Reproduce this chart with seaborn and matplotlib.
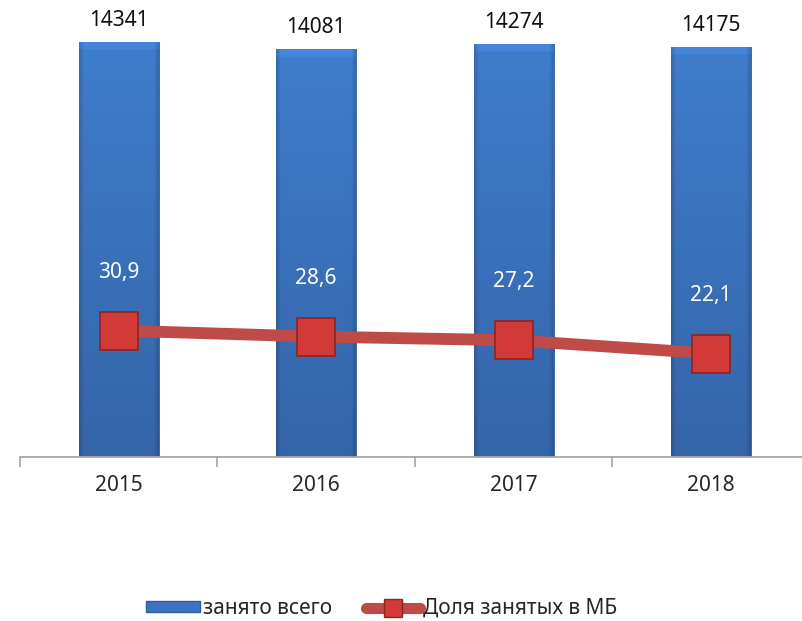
import numpy as np
import pandas as pd
import matplotlib
matplotlib.use("Agg")
import matplotlib.pyplot as plt
import seaborn as sns
from matplotlib.lines import Line2D
from matplotlib.patches import Patch
from matplotlib.colors import to_rgb

# data
years = ["2015", "2016", "2017", "2018"]
employed_total = [14341, 14081, 14274, 14175]
share_small_business = [30.9, 28.6, 27.2, 22.1]
bar_labels = ["14341", "14081", "14274", "14175"]
share_labels = ["30,9", "28,6", "27,2", "22,1"]
legend_names = ["занято всего", "Доля занятых в МБ"]

sns.set_style("white")
plt.rcParams["font.family"] = ["Noto Sans", "DejaVu Sans"]

df = pd.DataFrame({"year": years, "total": employed_total, "share": share_small_business})

fig = plt.figure(figsize=(8.03, 6.21), dpi=100)
# axis runs a little past the right edge of the picture, as in the original
ax = fig.add_axes([0.0249, 0.264, 0.9838, 0.688])

sns.barplot(data=df, x="year", y="total", ax=ax, width=0.405,
            color="#3A74C2", saturation=1, edgecolor="#2F5E9E", linewidth=0.6)

# shading: slightly lighter at the top, darker at the bottom, darker narrow sides
top_c = np.array(to_rgb("#3F7DCC"))
bot_c = np.array(to_rgb("#3565A9"))
nx, ny = 80, 200
vy = np.linspace(0, 1, ny)[:, None, None]          # 0 top -> 1 bottom
shade = top_c * (1 - vy) + bot_c * vy
hx = np.linspace(0, 1, nx)
side = np.clip(np.minimum(hx, 1 - hx) / 0.06, 0, 1)
side = 0.85 + 0.15 * side
img = np.clip(shade * side[None, :, None], 0, 1)
for patch in ax.patches:
    x0, y0 = patch.get_x(), patch.get_y()
    w, h = patch.get_width(), patch.get_height()
    bar_img = img.copy()
    # bevel band at the top of the bar
    band = max(1, int(ny * 9 / 415))
    bar_img[:band] = np.clip(bar_img[:band] * 1.08, 0, 1)
    im = ax.imshow(bar_img, aspect="auto", extent=[x0, x0 + w, y0, y0 + h],
                   origin="upper", zorder=patch.get_zorder() + 0.1, interpolation="bilinear")
    im.set_clip_path(patch)

for i, lab in enumerate(bar_labels):
    ax.annotate(lab, (i, employed_total[i]), xytext=(0, 11.5), textcoords="offset points",
                ha="center", va="baseline", fontsize=15, color="#111111", annotation_clip=False)

ax.set_xlim(-0.5, 3.5)
ax.set_ylim(0, 14756)
ax.set_xlabel("")
ax.set_ylabel("")
ax.set_yticks([])
ax.set_xticks(np.arange(len(years)))
ax.set_xticklabels(years, fontsize=15)
ax.set_xticks(np.arange(len(years) + 1) - 0.5, minor=True)
ax.tick_params(axis="x", which="major", length=0, pad=13)
ax.tick_params(axis="x", which="minor", bottom=True, length=7, width=1.2,
               color="#A6A6A6", direction="out")
for s in ["top", "right", "left"]:
    ax.spines[s].set_visible(False)
ax.spines["bottom"].set_color("#A6A6A6")
ax.spines["bottom"].set_linewidth(1.3)

ax2 = ax.twinx()
sns.lineplot(x=np.arange(len(years)), y=share_small_business, ax=ax2, color="#BE4B48",
             linewidth=8.5, marker="s", markersize=27, markerfacecolor="#D23A37",
             markeredgecolor="#8E2421", markeredgewidth=1.2)
for i, lab in enumerate(share_labels):
    ax2.annotate(lab, (i, share_small_business[i]), xytext=(0, 38), textcoords="offset points",
                 ha="center", va="baseline", fontsize=15, color="white")
ax2.set_ylim(-17.5, 146)
ax2.set_yticks([])
ax2.set_ylabel("")
for s in ax2.spines.values():
    s.set_visible(False)

handles = [
    Patch(facecolor="#3A74C2", edgecolor="#2F5E9E"),
    Line2D([0], [0], color="#BE4B48", linewidth=8, marker="s", markersize=13,
           markerfacecolor="#D23A37", markeredgecolor="#8E2421"),
]
fig.legend(handles, legend_names, loc="center", bbox_to_anchor=(0.475, 0.02), ncol=2,
           frameon=False, fontsize=15, handlelength=2.6, handleheight=0.45,
           columnspacing=1.6, handletextpad=0.15)

fig.savefig("out.png", dpi=100)
